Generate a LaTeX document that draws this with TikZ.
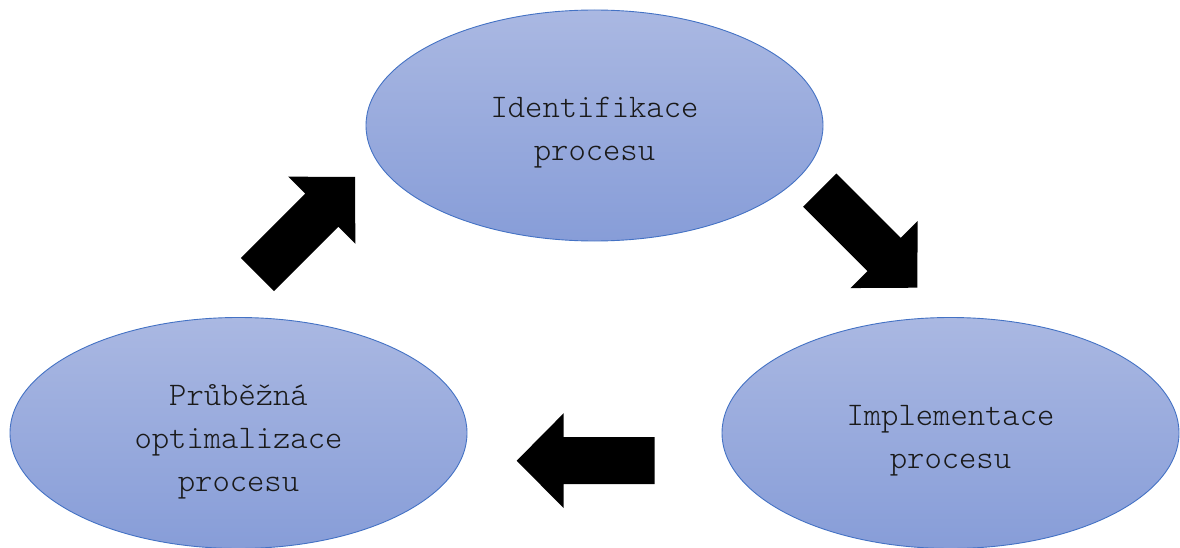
\documentclass[tikz,border=0pt]{standalone}
\usepackage{fontspec}
\setmonofont{Latin Modern Mono Light}
\usetikzlibrary{shapes.geometric}
\definecolor{ellTop}{HTML}{AAB8E2}
\definecolor{ellBot}{HTML}{879DD8}
\definecolor{ellEdge}{HTML}{4472C4}
\definecolor{txt}{HTML}{1A1A1A}
\tikzset{
  stage/.style={ellipse, draw=ellEdge, line width=0.9pt, top color=ellTop,
    bottom color=ellBot, minimum width=457pt, minimum height=231pt, inner sep=0pt},
  label/.style={align=center, text=txt, font=\ttfamily\fontsize{33}{43}\selectfont},
  pics/blockarrow/.style={code={
    \fill[black] (0,0) -- (-47,47.5) -- (-47,23.5) -- (-138,23.5)
      -- (-138,-23.5) -- (-47,-23.5) -- (-47,-47.5) -- cycle;}}
}
\begin{document}
\begin{tikzpicture}[x=1pt,y=-1pt]
\useasboundingbox (0,0) rectangle (1180,548);
% process stages
\node[stage] (ident) at (594.5,125.5) {};
\node[stage] (impl)  at (950.5,433) {};
\node[stage] (optim) at (238.5,433) {};
\node[label] (identT) at (594.5,133) {Identifikace\\procesu};
\node[label] (implT)  at (950.5,441) {Implementace\\procesu};
\node[label] (optimT) at (238.5,442) {Průběžná\\optimalizace\\procesu};
% block arrows between stages (tip positions)
\coordinate (tipA) at (917.3,287.7);
\coordinate (tipB) at (516.7,460.7);
\coordinate (tipC) at (355,177);
\pic[rotate=-45] at (tipA) {blockarrow};
\pic[rotate=180] at (tipB) {blockarrow};
\pic[rotate=45]  at (tipC) {blockarrow};
\end{tikzpicture}
\end{document}
